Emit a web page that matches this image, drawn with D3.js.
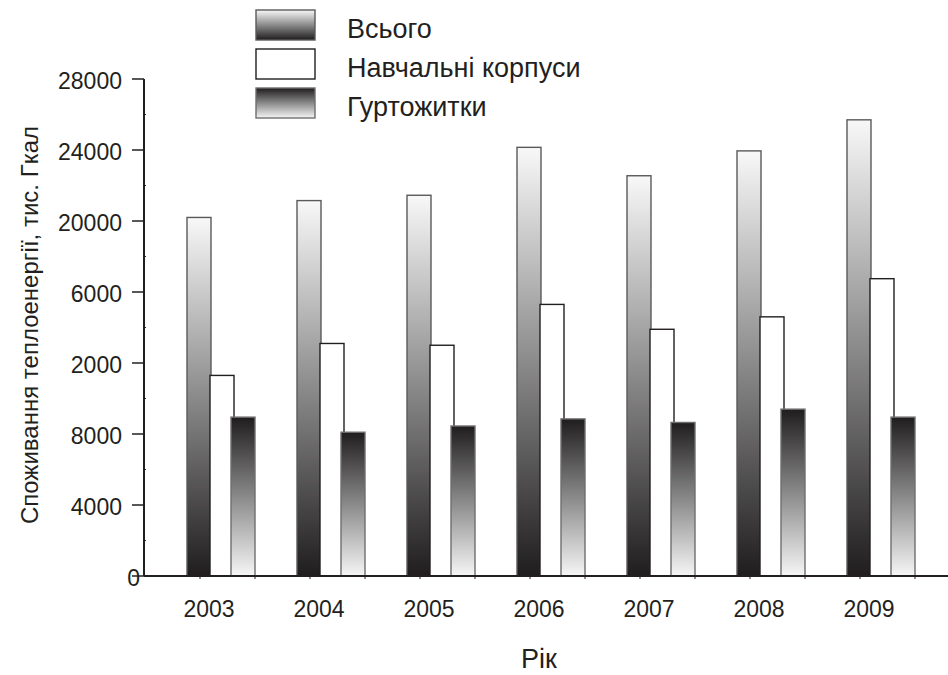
<!DOCTYPE html>
<html><head><meta charset="utf-8">
<script src="https://cdn.jsdelivr.net/npm/d3@7"></script>
<style>body{margin:0;background:#fff}svg{display:block}text{font-family:"Liberation Sans",Arial,sans-serif;fill:#231f20}</style>
</head><body>
<svg id="c" width="948" height="675"></svg>
<script>
const years = ["2003","2004","2005","2006","2007","2008","2009"];
const seriesNames = ["Всього","Навчальні корпуси","Гуртожитки"];
const total = [20200,21150,21450,24150,22550,23950,25700];
const academic = [11300,13100,13000,15300,13900,14600,16750];
const dorms = [8950,8100,8450,8850,8650,9400,8950];
const yTickValues = [0,4000,8000,12000,16000,20000,24000,28000];
const yTickLabels = ["0","4000","8000","2000","6000","20000","24000","28000"];
const xTitle = "Рік";
const yTitle = "Споживання теплоенергії, тис. Гкал";

const svg = d3.select("#c");
const defs = svg.append("defs");
function grad(id, top, bottom){
  const g = defs.append("linearGradient").attr("id", id).attr("x1",0).attr("y1",0).attr("x2",0).attr("y2",1);
  g.append("stop").attr("offset","0%").attr("stop-color",top);
  g.append("stop").attr("offset","100%").attr("stop-color",bottom);
}
grad("gTotal","#f8f8f8","#1f1d1e");
grad("gDorm","#1f1d1e","#f6f6f6");

const y = d3.scaleLinear().domain([0,28000]).range([576,79]);
const x = d3.scaleBand().domain(years).range([145,915]);
const axisLeft = 144, axisRight = 948;

// bars
const series = [
  {name:seriesNames[0], values: total, fill:"url(#gTotal)", stroke:"#5a5a5a", off:-13},
  {name:seriesNames[1], values: academic, fill:"#ffffff", stroke:"#231f20", off:10},
  {name:seriesNames[2], values: dorms, fill:"url(#gDorm)", stroke:"#6e6e6e", off:31}
];
const bw = 24;
const center = d => x(d) + x.bandwidth()/2;
series.forEach(s => {
  svg.append("g").selectAll("rect").data(years).join("rect")
    .attr("x", (d) => center(d) + s.off)
    .attr("y", (d,i) => y(s.values[i]))
    .attr("width", bw)
    .attr("height", (d,i) => y(0) - y(s.values[i]))
    .attr("fill", s.fill)
    .attr("stroke", s.stroke)
    .attr("stroke-width", 1.4);
});

// y axis
const ya = svg.append("g");
ya.append("line").attr("x1",axisLeft).attr("x2",axisLeft).attr("y1",y(28000)).attr("y2",y(0)).attr("stroke","#231f20").attr("stroke-width",2);
ya.selectAll(".maj").data(yTickValues).join("line")
  .attr("x1",axisLeft-12).attr("x2",axisLeft).attr("y1",d=>y(d)).attr("y2",d=>y(d))
  .attr("stroke","#231f20").attr("stroke-width",1.5);
ya.selectAll(".min").data(d3.range(2000,28000,4000)).join("line")
  .attr("x1",axisLeft).attr("x2",axisLeft+2).attr("y1",d=>y(d)).attr("y2",d=>y(d))
  .attr("stroke","#231f20").attr("stroke-width",1);
ya.selectAll("text").data(yTickValues).join("text")
  .attr("x",(d,i)=> i===0 ? axisLeft-4 : axisLeft-22).attr("y",d=>y(d)).attr("dy","0.42em")
  .attr("text-anchor","end").attr("font-size",23)
  .text((d,i)=>yTickLabels[i]);

// x axis
const xa = svg.append("g");
xa.append("line").attr("x1",axisLeft).attr("x2",axisRight).attr("y1",y(0)).attr("y2",y(0)).attr("stroke","#231f20").attr("stroke-width",2);
const xt = [];
years.forEach(d => { xt.push(x(d)); xt.push(center(d)); });
xt.push(x(years[years.length-1]) + x.bandwidth());
xa.selectAll(".t").data(xt.slice(1)).join("line")
  .attr("x1",d=>d).attr("x2",d=>d).attr("y1",y(0)).attr("y2",y(0)+3)
  .attr("stroke","#231f20").attr("stroke-width",1);
xa.selectAll("text").data(years).join("text")
  .attr("x",d=>center(d)+9).attr("y",617)
  .attr("text-anchor","middle").attr("font-size",23)
  .text(d=>d);

// titles
svg.append("text").attr("x",539).attr("y",668).attr("text-anchor","middle").attr("font-size",27).text(xTitle);
svg.append("text").attr("transform","translate(38,325) rotate(-90)").attr("text-anchor","middle").attr("font-size",24).text(yTitle);

// legend
const lg = svg.append("g");
series.forEach((s,i) => {
  lg.append("rect").attr("x",256).attr("y",10+i*39).attr("width",59).attr("height",30)
    .attr("fill",s.fill).attr("stroke",s.stroke).attr("stroke-width",1.4);
  lg.append("text").attr("x",347).attr("y",38+i*39).attr("font-size",27).text(s.name);
});
</script>
</body></html>
